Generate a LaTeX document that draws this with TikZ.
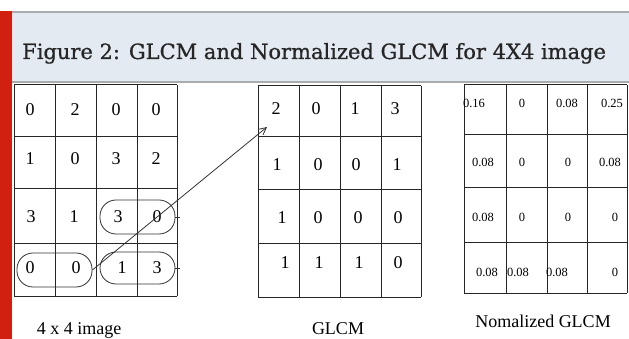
\documentclass[tikz,border=0pt]{standalone}
\usepackage{fontspec}
\setmainfont{Liberation Serif}
\newfontfamily\headfont[FakeBold=0.8]{DejaVu Serif}
\usetikzlibrary{arrows.meta}

\definecolor{barred}{HTML}{D1200F}
\definecolor{headfill}{HTML}{E4EAF1}
\definecolor{headline}{HTML}{A9ABAE}

\tikzset{
  gridline/.style={line width=1pt, black!85},
  num/.style={font=\fontsize{18}{20}\selectfont, inner sep=0pt},
  smallnum/.style={font=\fontsize{12.5}{14}\selectfont, inner sep=0pt},
  caption/.style={font=\fontsize{18}{20}\selectfont, inner sep=0pt, anchor=base},
  pill/.style={draw, black!80, line width=0.8pt, rounded corners=16pt,
    minimum width=75pt, minimum height=34pt, inner sep=0pt},
}

\begin{document}
\begin{tikzpicture}[x=1pt,y=-1pt]
        \useasboundingbox (0,0) rectangle (629,339);

        % Draw header band
        \fill[headfill] (11,12) rectangle (629,81);
        \draw[headline, line width=1.2pt] (11,12) -- (629,12);
        \draw[headline, line width=2pt] (11,82) -- (629,82);
        \fill[barred] (0,11) rectangle (12,339);
        \node[anchor=base west, inner sep=0pt, text=black!85, font=\headfont\fontsize{21}{24}\selectfont] (title) at (22,59)
            {Figure 2: GLCM and Normalized GLCM for 4X4 image};

        % Draw the 4 x 4 image grid
        \foreach \x in {14,55,96,137,177}
            \draw[gridline] (\x,85) -- (\x,296);
        \foreach \y in {85,137,189,243,296}
            \draw[gridline] (14,\y) -- (177,\y);

        % Draw the GLCM grid
        \foreach \x in {258,299,340,381,421}
            \draw[gridline] (\x,86) -- (\x,297);
        \foreach \y in {86,137,190,243,297}
            \draw[gridline] (258,\y) -- (421,\y);

        % Draw the normalized grid
        \foreach \x in {464,506,547,587,627}
            \draw[gridline] (\x,85) -- (\x,293);
        \foreach \y in {85,135,188,242,293}
            \draw[gridline] (464,\y) -- (627,\y);

        % Image values
        \foreach \y/\row [count=\r] in {110/{0/30,2/75,0/116,0/156}, 159/{1/30,0/75,3/116,2/156},
                                       217/{3/31,1/74,3/118,0/157}, 268/{0/30,0/76,1/122,3/157}} {
            \foreach \v/\x [count=\c] in \row
                \node[num] (img-\r-\c) at (\x,\y) {\v};
        }

        % GLCM values
        \foreach \y/\row [count=\r] in {109/{2/276,0/316,1/355,3/395}, 165/{1/277,0/318,0/356,1/397},
                                       218/{1/282,0/318,0/358,0/398}, 263/{1/285,1/319,1/359,0/398}} {
            \foreach \v/\x [count=\c] in \row
                \node[num] (glcm-\r-\c) at (\x,\y) {\v};
        }

        % Normalized values
        \foreach \y/\row [count=\r] in {103/{0.16/474,0/522,0.08/567,0.25/612}, 162/{0.08/483,0/522,0/568,0.08/610},
                                       217/{0.08/483,0/522,0/568,0/615}, 272/{0.08/487,0.08/518,0.08/557,0/615}} {
            \foreach \v/\x [count=\c] in \row
                \node[smallnum] (norm-\r-\c) at (\x,\y) {\v};
        }

        % Pairs of neighbours
        \node[pill] (pair30) at (137.5,217) {};
        \node[pill] (pair00) at (54.5,270) {};
        \node[pill, minimum height=32pt] (pair13) at (137.5,268) {};
        \draw[black!80, line width=0.6pt] (pair30.east) -- ++(5,0);
        \draw[black!80, line width=0.6pt] (pair13.east) -- ++(5,0);

        % Arrow to the GLCM entry
        \coordinate (glcmtip) at (267,127);
        \draw[black!80, line width=0.8pt, -{Straight Barb[length=7pt,width=7pt]}] (pair00.east) -- (glcmtip);

        % Captions
        \node[caption] (imgcap) at (79,334) {4 x 4 image};
        \node[caption] (glcmcap) at (338,334) {GLCM};
        \node[caption] (normcap) at (543,327) {Nomalized GLCM};
\end{tikzpicture}
\end{document}
